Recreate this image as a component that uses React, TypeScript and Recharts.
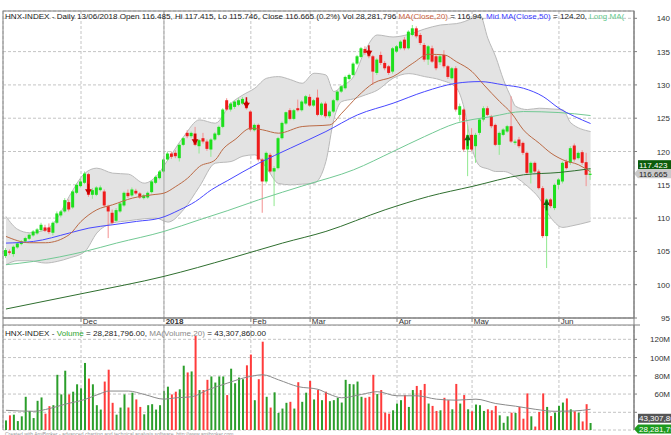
import React from 'react';
import { ComposedChart, Bar, Line, Area, XAxis, YAxis, CartesianGrid, ReferenceLine, Cell } from 'recharts';

const FONT = 'Arial, "Liberation Sans", sans-serif';

const monthTicks = [19, 40, 62, 77, 99, 118, 140];
const monthLabels = ['Dec', '2018', 'Feb', 'Mar', 'Apr', 'May', 'Jun'];
const priceTicks = [95, 100, 105, 110, 115, 120, 125, 130, 135, 140];
const volTicks = [40e6, 60e6, 80e6, 100e6, 120e6];
const volTicksHiddenLabel = [40e6];

const opens = [
  104.3,105.0,104.6,105.6,106.1,106.5,106.9,107.4,107.7,108.2,
  108.6,108.6,107.8,109.3,110.4,111.0,112.4,111.6,113.8,114.8,
  115.3,116.6,113.5,113.5,114.2,114.0,111.8,110.8,109.6,111.0,
  111.9,113.8,113.4,114.1,113.7,113.0,113.1,113.9,115.3,116.0,
  117.0,118.8,119.7,119.8,119.0,121.0,122.8,122.3,122.7,120.8,
  122.0,121.5,120.3,121.8,122.5,123.7,127.7,126.3,126.7,127.0,
  127.2,127.5,126.0,123.2,124.0,118.8,115.5,119.5,117.0,117.5,
  122.0,124.2,126.2,124.9,126.5,126.2,127.2,128.2,126.9,128.1,
  125.5,127.2,125.3,126.0,127.7,129.0,129.5,130.9,131.5,133.2,
  134.2,135.4,135.2,134.3,131.8,134.5,133.3,132.8,132.0,135.0,
  135.5,136.8,135.5,137.5,138.5,137.5,136.0,133.8,135.5,134.3,
  133.4,134.5,132.8,131.0,132.5,125.5,126.3,120.3,122.5,120.8,
  122.8,124.8,126.5,125.3,124.0,121.0,122.5,123.0,123.8,121.3,
  121.8,121.3,119.8,116.8,118.3,117.0,114.5,107.3,112.8,111.5,
  115.0,115.5,118.5,118.3,120.9,119.0,119.9,118.4,116.485,
];
const highs = [
  105.5,105.3,105.9,106.4,106.7,107.2,107.7,108.2,108.5,109.3,
  109.0,109.2,109.5,111.0,111.2,113.0,112.8,114.2,115.2,115.9,
  117.0,116.8,114.5,114.8,114.9,114.3,112.0,111.3,111.5,112.4,
  114.0,114.3,114.6,114.4,113.9,113.6,114.0,115.7,116.4,117.2,
  119.0,120.0,120.0,120.2,121.2,122.2,123.2,123.0,123.7,121.9,
  122.8,121.8,122.0,122.9,123.9,126.5,128.0,127.4,127.7,128.0,
  128.2,127.9,126.2,124.2,124.2,119.0,120.0,119.8,117.8,122.2,
  124.5,126.0,126.5,126.4,127.8,127.7,128.5,128.6,127.9,129.3,
  127.4,127.5,126.2,127.9,129.2,130.0,131.4,131.7,133.4,134.5,
  135.7,135.8,135.6,134.5,134.0,135.0,133.6,133.0,135.7,136.0,
  136.7,137.2,138.2,139.0,138.8,137.8,136.3,136.0,135.9,134.6,
  134.5,135.2,133.0,132.7,132.8,127.2,126.5,124.0,123.5,122.8,
  125.0,126.8,126.8,125.5,124.2,123.0,123.5,124.0,128.3,121.8,
  122.2,121.5,120.0,118.5,118.5,117.3,114.8,113.0,113.0,115.2,
  116.0,118.5,118.8,120.8,121.2,120.0,120.2,119.8,117.415,
];
const lows = [
  104.0,104.5,104.2,105.4,105.9,106.3,106.7,107.2,107.5,108.0,
  107.9,107.6,107.4,109.1,110.1,110.8,111.0,111.4,113.6,114.6,
  115.1,113.2,112.9,113.3,114.0,111.6,107.0,109.0,109.4,110.8,
  111.7,113.0,113.2,113.5,112.9,112.8,112.9,113.7,115.1,115.8,
  116.8,118.6,118.9,119.0,118.5,120.8,122.0,122.0,120.8,119.7,
  121.2,120.1,119.2,121.6,122.3,123.5,126.1,126.0,126.4,126.8,
  127.0,126.3,123.0,123.0,118.5,110.8,115.2,116.8,111.8,117.3,
  121.8,124.0,124.7,124.7,126.0,126.0,127.0,126.7,126.7,125.3,
  125.3,125.0,125.0,125.8,127.5,128.8,129.3,130.7,131.3,133.0,
  134.0,134.5,134.0,130.0,131.5,133.0,132.2,131.5,131.7,134.8,
  135.3,135.2,135.3,137.3,137.0,136.0,133.5,133.0,133.3,132.2,
  133.0,132.5,130.9,130.8,126.0,124.5,120.0,116.3,120.0,118.3,
  122.5,124.5,125.3,123.5,120.8,119.5,122.3,122.8,121.3,121.0,
  120.5,119.5,116.5,115.2,116.8,114.3,107.0,102.5,111.5,111.2,
  114.3,115.2,117.3,118.0,118.5,118.8,118.0,114.8,115.746,
];
const closes = [
  105.2,104.8,105.7,106.2,106.5,107.0,107.5,108.0,108.3,109.0,
  108.1,107.9,109.3,110.7,111.0,112.7,111.3,114.0,115.0,115.5,
  116.7,113.5,114.2,114.6,114.6,111.9,111.0,109.3,111.2,112.2,
  113.8,113.3,114.3,113.7,113.1,113.4,113.8,115.5,116.2,117.0,
  118.8,119.7,119.2,119.3,121.0,122.0,122.3,122.8,121.0,121.7,
  121.5,120.4,121.8,122.7,123.7,126.3,126.3,127.2,127.5,127.7,
  127.9,126.5,123.3,124.0,118.8,115.5,119.8,117.0,117.5,122.0,
  124.3,125.9,124.9,126.2,126.2,127.5,128.3,126.9,127.7,125.5,
  127.2,125.3,126.0,127.7,129.0,129.8,131.2,131.5,133.2,134.3,
  135.5,134.8,134.3,132.0,133.8,133.3,132.5,131.8,135.5,135.8,
  136.5,135.5,138.0,138.5,137.3,136.3,133.8,135.8,133.5,132.5,
  134.3,132.8,131.2,132.5,126.3,126.8,120.3,122.5,120.3,122.5,
  124.8,126.5,125.5,123.8,121.0,122.8,123.3,123.8,121.5,121.5,
  120.8,119.8,116.8,118.3,117.0,114.5,107.3,112.8,111.8,115.0,
  115.8,118.3,117.5,120.5,118.8,119.8,118.3,116.5,116.665,
];
// volume in millions
const volumesM = [
  31.1,36.7,37.4,30.4,35.6,57,41.5,33.7,52.6,56.3,
  38.5,46.7,47.8,81.1,59.6,85.6,59.6,62.6,70.7,66.3,
  94.1,77,70.7,47.8,43,73.7,86.7,50.4,37.4,45.2,
  59.6,45.2,61.5,54.1,45.9,37.8,47.8,48.9,43,47.8,
  63.3,68.1,59.6,62.6,65.2,91.1,83.7,84.8,123.7,64.4,
  64.4,75.6,79.3,72.6,79.3,79.3,58.9,87.8,71.9,78.1,
  76.3,91.5,103.3,53.3,76.3,117.4,57,45.2,61.9,39.3,
  44.1,50.4,51.5,44.1,73,51.5,61.5,74.4,54.1,64.4,
  53.3,62.6,52.2,53.3,55.9,50.7,75.6,71.1,70.7,73.7,
  57,55.9,57,81.1,60,64.4,39.6,38.5,42.2,49.6,
  53.3,58.9,45.9,64.4,68.9,64.4,71.1,49.6,47,41.5,
  42.2,55.9,53.3,43.3,71.1,49.6,58.9,43.3,41.1,48.5,
  47.8,41.5,43.3,42.2,47,36.7,28.5,35.6,39.6,39.3,
  45.9,33,60.7,35.6,24.4,40.4,60.7,45.9,35.9,39.6,
  47,50.7,55.2,43.3,41.1,39.6,30,48.9,28.28,
];

const downArrows = [21, 48, 61, 92];
const upArrows = [117, 137];

const ma20Pts: [number, number][] = [
  [0,107.25],[6,106.3],[10,106.3],[16,107.5],[19,109.5],[23,111.25],[27,112],[32,113],[37,113.5],[40,113.75],
  [43,114.75],[46,116],[49,117.75],[53,118.75],[55,120.4],[58,121.8],[62,123.5],[65,123.25],[69,122.75],[75,123.75],
  [82,124],[85,125.75],[89,128.25],[93,130.25],[98,131.25],[103,133.25],[107,134.6],[111,134.5],[114,133.5],[118,132],
  [121,130],[125,127.5],[128,125.75],[131,123.25],[135,121.25],[138,119.75],[141,118.75],[145,118],[148,116.94],
];
const ma50Pts: [number, number][] = [
  [0,106.25],[7,106.5],[16,107.75],[21,108.5],[27,109],[33,109.5],[39,110],[44,111.25],[48,112.5],[52,114.25],
  [56,115.6],[64,118.25],[72,120.5],[81,123],[89,125.5],[98,127.25],[106,129],[114,130.25],[120,130.5],[126,130],
  [131,129.5],[136,128.25],[140,126.5],[144,125.25],[148,124.2],
];
const longMaPts: [number, number][] = [
  [0,103],[7,103.5],[20,105],[28,106.25],[40,108],[49,109.75],[56,111.1],[64,112.75],[76,115],[88,117.25],
  [98,120],[106,122.25],[114,124.25],[123,125.25],[131,126],[140,125.85],[148,125.4],
];
const ma200Pts: [number, number][] = [
  [0,96.35],[20,98.75],[40,101.25],[57,104],[70,106.25],[81,108],[96,111.25],[107,113.25],[118,114.75],[131,116.5],
  [140,116.85],[148,117.42],
];
// [index, lower, upper]
const bandPts: [number, number, number][] = [
  [0,103,110.25],[3,103.6,108.3],[6,103.6,107.8],[10,103.25,108.25],[13,103.5,110],[16,104,113.25],[20,105,116.75],
  [23,107.75,117.5],[27,109.25,116.75],[31,109.6,116.6],[35,109.9,115.25],[38,110,116.25],[41,109.4,118.75],
  [45,111.3,122.25],[49,114.75,124.75],[53,118.25,124.25],[57,118.5,127.25],[60,119.3,128.5],[63,119.5,129.5],
  [66,117.5,131],[69,115.2,131.25],[72,115,130.8],[75,115.1,130.25],[78,115.25,131.75],[81,118.5,131.5],
  [83,124.8,129],[85,127.5,129.8],[88,127.9,131.25],[91,128.5,135.25],[94,129.2,137.5],[98,131,137.2],
  [102,131.7,137.6],[106,131.25,138.4],[110,130.75,139],[114,129.6,139.2],[116,126.5,139.5],[118,120.5,140],
  [120,117.8,140.5],[122,117.4,137],[124,117,134.2],[126,117,130.7],[128,116.6,128],[129,116.2,126.8],
  [132,114.8,126.3],[135,113,126.5],[138,110,126.4],[141,108.6,126.25],[143,108.8,124.3],[148,109.5,123],
];
const volMaPts: [number, number][] = [
  [0,42.2],[7,41.1],[11,44.1],[15,48.9],[20,54.1],[24,60.7],[26,63.3],[31,63.3],[35,59.6],[40,54.4],
  [43,55.9],[47,57],[51,64.4],[56,71.9],[61,78.5],[65,81.1],[69,75.6],[74,68.1],[79,65.2],[82,59.6],
  [85,55.9],[90,59.6],[94,62.6],[99,58.1],[104,58.1],[109,54.4],[114,53.3],[119,54.4],[124,49.6],[129,46.7],
  [134,43.3],[139,41.1],[144,41.5],[148,43.3],
];

const lastClose = 116.665;
const lastLongMa = 117.423;
const lastVolume = 28281796;
const lastVolMa = 43307860;

const toMap = (pts: [number, number][]) => new Map(pts.map(([k, v]) => [k, v]));
const m20 = toMap(ma20Pts);
const m50 = toMap(ma50Pts);
const mLong = toMap(longMaPts);
const m200 = toMap(ma200Pts);
const mVma = toMap(volMaPts);
const bandMap = new Map(bandPts.map(([k, lo, hi]) => [k, [lo, hi]]));

const rows = opens.map((o, i) => ({
  i,
  o,
  h: highs[i],
  l: lows[i],
  c: closes[i],
  vol: volumesM[i] * 1e6,
  ma20: m20.has(i) ? m20.get(i) : null,
  ma50: m50.has(i) ? m50.get(i) : null,
  maLong: mLong.has(i) ? mLong.get(i) : null,
  ma200: m200.has(i) ? m200.get(i) : null,
  vma: mVma.has(i) ? (mVma.get(i) as number) * 1e6 : null,
  band: bandMap.has(i) ? bandMap.get(i) : null,
}));

const X_DOMAIN: [number, number] = [-0.75, 159];

const UP_BODY = '#1ddf1d';
const DN_BODY = '#ee1c1c';
const UP_WICK = '#8fe98f';
const DN_WICK = '#f39090';

function CandleShape(props: any) {
  const { x, y, width, height, payload } = props;
  if (!payload || x == null || y == null) return null;
  const { o, h, l, c, i } = payload;
  const up = c >= o;
  const cx = x + width / 2;
  const span = h - l;
  const k = span > 0 ? height / span : 0;
  const yv = (v: number) => y + (h - v) * k;
  const top = yv(Math.max(o, c));
  const bot = yv(Math.min(o, c));
  const bh = Math.max(1, bot - top);
  const yc = yv(c);
  return (
    <g>
      <line x1={cx} x2={cx} y1={y} y2={y + height} stroke={up ? UP_WICK : DN_WICK} strokeWidth={1} />
      <rect x={cx - 1.5} y={top} width={3} height={bh} fill={up ? UP_BODY : DN_BODY} />
      {downArrows.includes(i) && (
        <g>
          <rect x={cx - 0.75} y={yc - 11} width={1.5} height={6} fill="#c80000" />
          <path d={`M${cx - 3.5},${yc - 5.5} L${cx + 3.5},${yc - 5.5} L${cx},${yc} Z`} fill="#c80000" />
        </g>
      )}
      {upArrows.includes(i) && (
        <g>
          <rect x={cx - 0.75} y={yc + 5} width={1.5} height={6} fill="#0d6a0d" />
          <path d={`M${cx - 3.5},${yc + 5.5} L${cx + 3.5},${yc + 5.5} L${cx},${yc} Z`} fill="#0d6a0d" />
        </g>
      )}
    </g>
  );
}

const XTick = (props: any) => {
  const { x, y, payload } = props;
  const idx = monthTicks.indexOf(payload.value);
  const label = monthLabels[idx] ?? '';
  return (
    <text x={x + 1.7} y={y + 1.6} fontSize={8} fill="#333" fontFamily={FONT} fontWeight={label === '2018' ? 'bold' : 'normal'}>
      {label}
    </text>
  );
};

const PriceYTick = (props: any) => {
  const { x, y, payload } = props;
  return (
    <text x={x + 31} y={y + 3} fontSize={8} fill="#333" fontFamily={FONT} textAnchor="end">
      {payload.value}
    </text>
  );
};

const VolYTick = (props: any) => {
  const { x, y, payload } = props;
  if (volTicksHiddenLabel.includes(payload.value)) return <g />;
  return (
    <text x={x + 31} y={y + 3} fontSize={8} fill="#333" fontFamily={FONT} textAnchor="end">
      {`${Math.round(payload.value / 1e6)}M`}
    </text>
  );
};

const makeTag = (text: string, bg: string, fg: string, arrow: boolean, dy: number) => (p: any) => {
  const vb = p.viewBox || {};
  const right = vb.x + vb.width;
  const left = right + 4;
  const cy = vb.y + dy;
  return (
    <g>
      {arrow && <path d={`M${right},${cy} L${left},${cy - 4.5} L${left},${cy + 4.5} Z`} fill={bg} />}
      <rect x={left} y={cy - 4.5} width={40} height={9} fill={bg} />
      <text x={left + 1} y={cy + 3} fontSize={8} fill={fg} fontFamily={FONT}>
        {text}
      </text>
    </g>
  );
};

const fmtInt = (v: number) => v.toLocaleString('en-US');

export default function App() {
  return (
    <div style={{ position: 'absolute', left: 0, top: 0, width: 671, height: 435, background: '#fff', overflow: 'hidden' }}>
      <div style={{ position: 'absolute', left: 0, top: 0 }}>
        <ComposedChart width={671} height={325} data={rows} margin={{ top: 11, right: 0, left: 3, bottom: 0 }}>
          <CartesianGrid stroke="#c4c4c4" strokeDasharray="3 2" />
          <XAxis
            type="number"
            dataKey="i"
            domain={X_DOMAIN}
            allowDataOverflow
            ticks={monthTicks}
            interval={0}
            height={7}
            tickSize={4}
            tickMargin={0}
            axisLine={{ stroke: '#808080' }}
            tickLine={{ stroke: '#808080' }}
            tick={<XTick />}
          />
          <YAxis
            orientation="right"
            domain={[95, 141.1]}
            allowDataOverflow
            ticks={priceTicks}
            interval={0}
            width={37}
            tickSize={3}
            tickMargin={2}
            axisLine={{ stroke: '#808080' }}
            tickLine={{ stroke: '#808080' }}
            tick={<PriceYTick />}
          />
          <ReferenceLine x={40} stroke="#a8a8a8" strokeWidth={1} />
          <Area
            dataKey={(d: any) => d.band}
            type="monotone"
            connectNulls
            fill="#e3e3e3"
            fillOpacity={1}
            stroke="#b9b9b9"
            strokeWidth={1}
            isAnimationActive={false}
            dot={false}
            activeDot={false}
          />
          <Line dataKey="ma200" type="monotone" connectNulls stroke="#2f6f2f" strokeWidth={1} dot={false} isAnimationActive={false} />
          <Line dataKey="maLong" type="monotone" connectNulls stroke="#72c994" strokeWidth={1} dot={false} isAnimationActive={false} />
          <Line dataKey="ma50" type="monotone" connectNulls stroke="#4848ff" strokeWidth={1} dot={false} isAnimationActive={false} />
          <Line dataKey="ma20" type="monotone" connectNulls stroke="#bb6a45" strokeWidth={1} dot={false} isAnimationActive={false} />
          <Bar dataKey={(d: any) => [d.l, d.h]} barSize={3} shape={<CandleShape />} isAnimationActive={false} />
          <ReferenceLine y={lastLongMa} stroke="none" ifOverflow="visible" label={makeTag('117.423', '#0b5c0b', '#ffffff', false, -4)} />
          <ReferenceLine y={lastClose} stroke="none" ifOverflow="visible" label={makeTag('116.665', '#c9c9c9', '#222222', true, 0)} />
        </ComposedChart>
      </div>
      <div style={{ position: 'absolute', left: 0, top: 325 }}>
        <ComposedChart width={671} height={110} data={rows} margin={{ top: 0, right: 0, left: 3, bottom: 5 }}>
          <CartesianGrid stroke="#c4c4c4" strokeDasharray="3 2" />
          <XAxis type="number" dataKey="i" domain={X_DOMAIN} allowDataOverflow ticks={monthTicks} interval={0} hide />
          <YAxis
            orientation="right"
            domain={[20.6e6, 135.7e6]}
            allowDataOverflow
            ticks={volTicks}
            interval={0}
            width={37}
            tickSize={3}
            tickMargin={2}
            axisLine={{ stroke: '#808080' }}
            tickLine={{ stroke: '#808080' }}
            tick={<VolYTick />}
          />
          <ReferenceLine x={40} stroke="#a8a8a8" strokeWidth={1} />
          <Bar dataKey="vol" barSize={2} isAnimationActive={false}>
            {rows.map((r) => (
              <Cell key={r.i} fill={r.c >= r.o ? '#2b9e2b' : '#ff3b3b'} />
            ))}
          </Bar>
          <Line dataKey="vma" type="monotone" connectNulls stroke="#8a8a8a" strokeWidth={1} dot={false} isAnimationActive={false} />
          <ReferenceLine y={lastVolMa} stroke="none" ifOverflow="visible" label={makeTag(fmtInt(lastVolMa), '#555555', '#ffffff', false, 9)} />
          <ReferenceLine y={lastVolume} stroke="none" ifOverflow="visible" label={makeTag(fmtInt(lastVolume), '#1d9a1d', '#ffffff', true, 6)} />
        </ComposedChart>
      </div>
      <svg width={671} height={435} style={{ position: 'absolute', left: 0, top: 0, pointerEvents: 'none' }}>
        <rect x={3} y={11} width={631} height={307} fill="none" stroke="#808080" strokeWidth={1} />
        <line x1={3} x2={640} y1={325} y2={325} stroke="#808080" strokeWidth={1} />
        <line x1={3} x2={3} y1={318} y2={430} stroke="#808080" strokeWidth={1} />
        <line x1={634} x2={634} y1={318} y2={430} stroke="#808080" strokeWidth={1} />
        <text x={5} y={18.5} fontSize={8.1} fontFamily={FONT} fill="#222">
          <tspan>HNX-INDEX - Daily 13/06/2018 Open 116.485, Hi 117.415, Lo 115.746, Close 116.665 (0.2%) Vol 28,281,796 </tspan>
          <tspan fill="#c8623e">MA(Close,20)</tspan>
          <tspan> = 116.94, </tspan>
          <tspan fill="#3a3aff">Mid MA(Close,50)</tspan>
          <tspan> = 124.20, </tspan>
          <tspan fill="#66c98c">Long MA(</tspan>
        </text>
        <text x={5} y={336} fontSize={8.1} fontFamily={FONT} fill="#222">
          <tspan>HNX-INDEX - </tspan>
          <tspan fill="#2fa52f">Volume</tspan>
          <tspan> = 28,281,796.00, </tspan>
          <tspan fill="#8a8a8a">MA(Volume,20)</tspan>
          <tspan> = 43,307,860.00</tspan>
        </text>
        <text x={5} y={436} fontSize={5} fontFamily={FONT} fill="#9a9a9a">
          Created with AmiBroker - advanced charting and technical analysis software. http://www.amibroker.com
        </text>
      </svg>
    </div>
  );
}
